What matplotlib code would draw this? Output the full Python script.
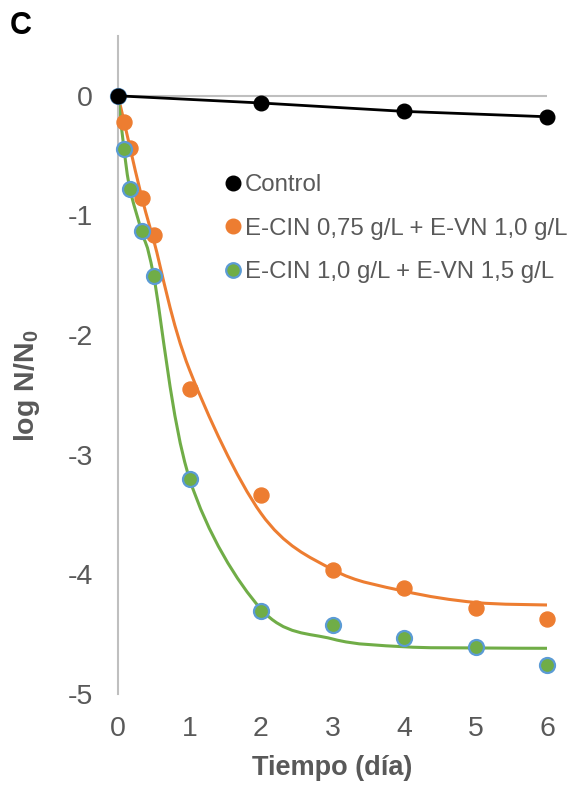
import matplotlib
matplotlib.use("Agg")
import matplotlib.pyplot as plt
from matplotlib.path import Path
from matplotlib.patches import PathPatch
from matplotlib.lines import Line2D

plt.rcParams['font.family'] = ['Liberation Sans', 'DejaVu Sans']
plt.rcParams['axes.unicode_minus'] = False
plt.rcParams['mathtext.fontset'] = 'custom'
plt.rcParams['mathtext.rm'] = 'Liberation Sans:bold'
plt.rcParams['mathtext.bf'] = 'Liberation Sans:bold'

# Time (days)
t_control = [0, 2, 4, 6]
t_treat = [0, 0.083, 0.167, 0.333, 0.5, 1, 2, 3, 4, 5, 6]

# Observed log N/N0
control_obs = [0.0, -0.06, -0.13, -0.175]
cin075_obs = [0.0, -0.215, -0.44, -0.855, -1.16, -2.45, -3.34, -3.96, -4.115, -4.28, -4.375]
cin10_obs = [0.0, -0.445, -0.78, -1.13, -1.51, -3.2, -4.31, -4.42, -4.53, -4.61, -4.755]

# Model fit
cin075_fit = [0.0, -0.21, -0.43, -0.85, -1.21, -2.29, -3.49, -3.96, -4.14, -4.235, -4.256]
cin10_fit = [0.0, -0.44, -0.78, -1.14, -1.51, -3.2, -4.29, -4.54, -4.605, -4.615, -4.618]

labels = ['Control', 'E-CIN 0,75 g/L + E-VN 1,0 g/L', 'E-CIN 1,0 g/L + E-VN 1,5 g/L']
x_ticks = [0, 1, 2, 3, 4, 5, 6]
y_ticks = [-5, -4, -3, -2, -1, 0]

ORANGE = '#ED7D31'
GREEN = '#70AD47'
BLUE = '#5B9BD5'
GRAY_TXT = '#595959'
AXIS = '#BFBFBF'


def smooth_path(xs, ys):
    """Cubic Bezier path through the points (Catmull-Rom style smoothing)."""
    pts = list(zip(xs, ys))
    n = len(pts)
    verts = [pts[0]]
    codes = [Path.MOVETO]
    for i in range(n - 1):
        p0 = pts[i - 1] if i > 0 else pts[i]
        p1 = pts[i]
        p2 = pts[i + 1]
        p3 = pts[i + 2] if i + 2 < n else pts[i + 1]
        c1 = (p1[0] + (p2[0] - p0[0]) / 6, p1[1] + (p2[1] - p0[1]) / 6)
        c2 = (p2[0] - (p3[0] - p1[0]) / 6, p2[1] - (p3[1] - p1[1]) / 6)
        verts += [c1, c2, p2]
        codes += [Path.CURVE4] * 3
    return Path(verts, codes)


fig = plt.figure(figsize=(5.71, 7.87), dpi=100)
ax = fig.add_axes([118 / 571, 1 - 694 / 787, (547 - 118) / 571, (694 - 36) / 787])
ax.set_xlim(0, 6)
ax.set_ylim(-5, 0.5)

# axis lines
for s in ['top', 'right', 'bottom']:
    ax.spines[s].set_visible(False)
ax.spines['left'].set_color(AXIS)
ax.spines['left'].set_linewidth(1.5)
ax.axhline(0, color=AXIS, lw=1.5, zorder=1)

# fitted curves
ax.add_patch(PathPatch(smooth_path(t_treat, cin075_fit), fill=False, edgecolor=ORANGE, lw=2.2, zorder=2))
ax.add_patch(PathPatch(smooth_path(t_treat, cin10_fit), fill=False, edgecolor=GREEN, lw=2.2, zorder=2))

# observed data
ax.plot(t_control, control_obs, color='black', lw=2, marker='o', ms=10.5,
        mfc='black', mec='black', zorder=4, clip_on=False)
ax.plot(t_treat, cin075_obs, linestyle='none', marker='o', ms=10.8,
        mfc=ORANGE, mec=ORANGE, zorder=3, clip_on=False)
ax.plot(t_treat, cin10_obs, linestyle='none', marker='o', ms=10.8,
        mfc=GREEN, mec=BLUE, mew=1.6, zorder=3, clip_on=False)

ax.set_xticks(x_ticks)
ax.set_xticklabels([str(v) for v in x_ticks])
ax.set_yticks(y_ticks)
ax.set_yticklabels([str(v) for v in y_ticks])
ax.tick_params(axis='both', length=0, labelsize=20.5, labelcolor=GRAY_TXT)
ax.tick_params(axis='x', pad=16)
ax.tick_params(axis='y', pad=18)

fig.text(332 / 571, 1 - 768 / 787, 'Tiempo (día)', ha='center', va='center',
         fontsize=19.5, fontweight='bold', color=GRAY_TXT)
fig.text(27 / 571, 1 - 386 / 787, r'log N/N$_{0}$', ha='center', va='center',
         rotation=90, fontsize=20.5, fontweight='bold', color=GRAY_TXT)
fig.text(10 / 571, 1 - 34 / 787, 'C', ha='left', va='baseline',
         fontsize=22, fontweight='bold', color='black')

handles = [
    Line2D([], [], linestyle='none', marker='o', ms=10.5, mfc='black', mec='black'),
    Line2D([], [], linestyle='none', marker='o', ms=10.5, mfc=ORANGE, mec=ORANGE),
    Line2D([], [], linestyle='none', marker='o', ms=10.5, mfc=GREEN, mec=BLUE, mew=1.6),
]
leg = fig.legend(handles, labels, loc='upper left', bbox_to_anchor=(226 / 571, 1 - 174 / 787),
                 frameon=False, fontsize=17.3, handlelength=0.6, handletextpad=0.2,
                 labelspacing=0.9, borderpad=0, borderaxespad=0)
for txt in leg.get_texts():
    txt.set_color(GRAY_TXT)

fig.savefig('out.png', dpi=100)
